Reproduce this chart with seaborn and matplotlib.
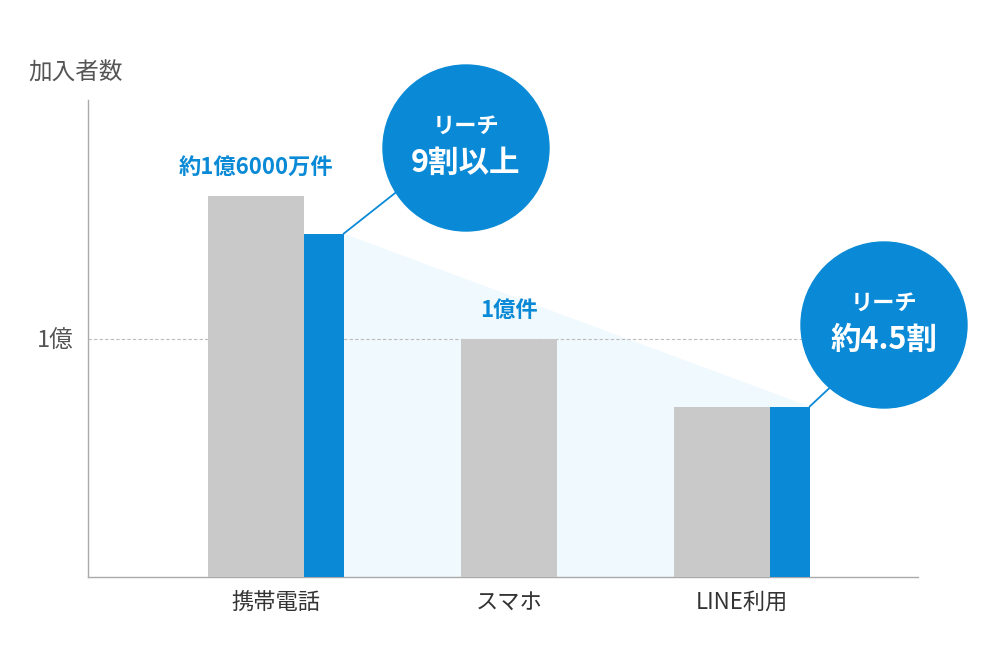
import matplotlib
matplotlib.use("Agg")
import matplotlib.pyplot as plt
import seaborn as sns
import numpy as np
from matplotlib.patches import Circle, Polygon

sns.set_theme(style="white")
plt.rcParams['font.family'] = ['Noto Sans CJK JP', 'DejaVu Sans']

categories = ["携帯電話", "スマホ", "LINE利用"]
subscribers = [1.60, 1.00, 0.715]      # 億
reach = [1.44, None, 0.715]            # 億
value_labels = ["約1億6000万件", "1億件", None]
bubbles = [("リーチ", "9割以上"), None, ("リーチ", "約4.5割")]

BLUE = "#0a8ad6"
GRAY = "#c9c9c9"
gw, bw = 0.41, 0.17

fig = plt.figure(figsize=(10, 6.66), dpi=100)
ax = fig.add_axes([0.088, 0.1336, 0.83, 0.716])
ax.set_xlim(-0.807, 2.755)
ax.set_ylim(0, 2.0)

gray_x, blue_x = [], []
for i, (s, r) in enumerate(zip(subscribers, reach)):
    if r is None:
        gx = i
    else:
        gx = i - bw / 2
        blue_x.append((gx + gw / 2 + bw / 2, r))
    gray_x.append(gx)
ax.bar(gray_x, subscribers, width=gw, color=GRAY, zorder=3, linewidth=0)
ax.bar([b[0] for b in blue_x], [b[1] for b in blue_x], width=bw, color=BLUE,
       zorder=3, linewidth=0)

# reach decline area
x0 = blue_x[0][0] + bw / 2
x1 = blue_x[-1][0] + bw / 2
ax.add_patch(Polygon([(x0, blue_x[0][1]), (x1, blue_x[-1][1]), (x1, 0), (x0, 0)],
                     closed=True, color="#f0f9fd", zorder=1, lw=0))

ax.axhline(1.0, color="#bbbbbb", ls=(0, (3, 2)), lw=0.8, zorder=2)

for i, lab in enumerate(value_labels):
    if lab:
        ax.text(gray_x[i], subscribers[i] + 0.07, lab, ha="center", va="bottom",
                color=BLUE, fontsize=16, fontweight="bold")

ax.set_xticks(range(len(categories)))
ax.set_xticklabels(categories, fontsize=16, color="#333333")
ax.set_yticks([1.0])
ax.set_yticklabels(["1億"], fontsize=17, color="#555555")
ax.tick_params(length=0, pad=10)
for sp in ["top", "right"]:
    ax.spines[sp].set_visible(False)
for sp in ["left", "bottom"]:
    ax.spines[sp].set_color("#aaaaaa")
    ax.spines[sp].set_linewidth(1)
ax.set_ylabel("")
fig.text(0.028, 0.88, "加入者数", fontsize=17, color="#555555")

# overlay for bubbles (pixel coords)
ov = fig.add_axes([0, 0, 1, 1], facecolor="none")
ov.set_xlim(0, 1000); ov.set_ylim(666, 0); ov.axis("off")
centers = [(466, 148), None, (884, 325)]
for i, b in enumerate(bubbles):
    if b is None:
        continue
    cx, cy = centers[i]
    px, py = ax.transData.transform((blue_x[0 if i == 0 else -1][0] + bw / 2,
                                     reach[i]))
    py = 666 - py
    ex, ey = (cx - 62, cy + 38) if i == 0 else (cx - 46, cy + 55)
    ov.plot([px, ex], [py, ey], color=BLUE, lw=1.3, zorder=4)
    ov.add_patch(Circle((cx, cy), 83, color=BLUE, zorder=5))
    ov.text(cx, cy - 22, b[0], ha="center", va="center", color="white",
            fontsize=16, fontweight="bold", zorder=6)
    ov.text(cx, cy + 15, b[1], ha="center", va="center", color="white",
            fontsize=22, fontweight="bold", zorder=6)

fig.savefig("out.png", dpi=100)
